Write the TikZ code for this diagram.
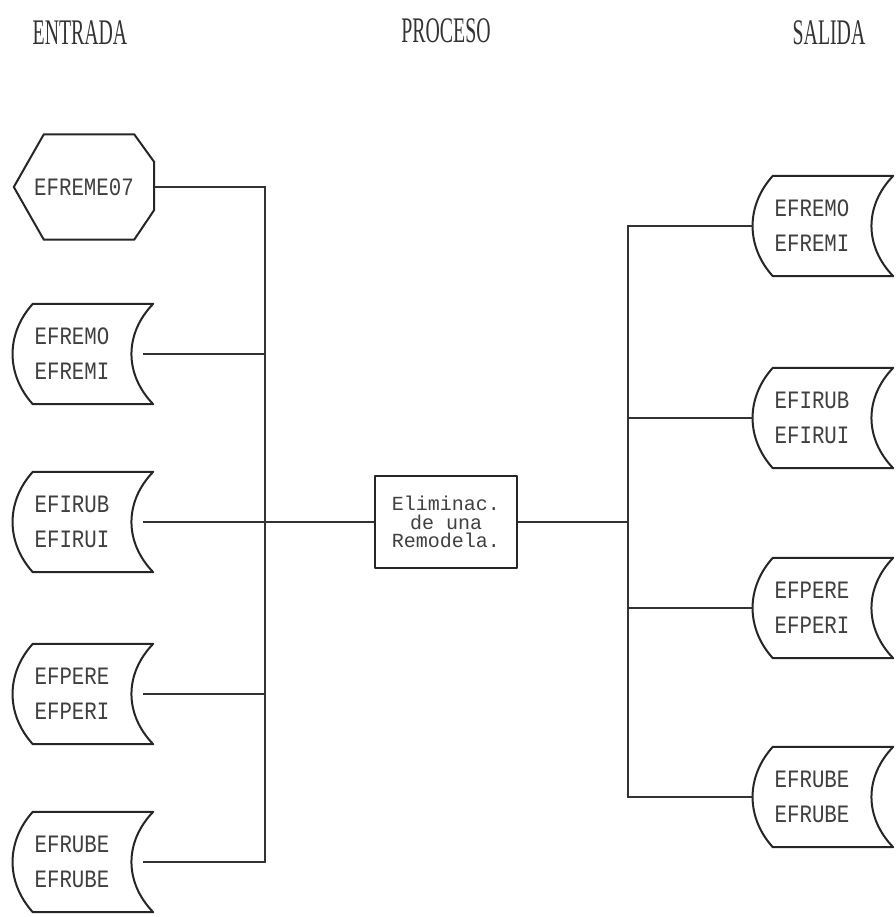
\documentclass[tikz,border=0pt]{standalone}
\usepackage{fontspec}
\newfontfamily\dotfont[FakeStretch=0.83]{Liberation Mono}
\newfontfamily\boxfont{Liberation Mono}
\newfontfamily\titlefont[FakeStretch=0.55]{Liberation Serif}
\usetikzlibrary{calc}
\begin{document}
\begin{tikzpicture}[x=1pt,y=-1pt]
\tikzset{
  shapeline/.style={draw=black!85, line width=2pt, line join=round},
  conn/.style={draw=black!80, line width=1.4pt},
  store/.style={minimum width=118pt, minimum height=100pt, inner sep=0pt, align=center,
    font=\dotfont\fontsize{25}{35}\selectfont, text=black!75},
  hexa/.style={minimum width=140pt, minimum height=105pt, inner sep=0pt,
    font=\dotfont\fontsize{25}{35}\selectfont, text=black!75},
  procbox/.style={shapeline, minimum width=142pt, minimum height=92pt, inner sep=0pt, align=center,
    font=\boxfont\fontsize{20}{18.5}\selectfont, text=black!75},
  title/.style={font=\titlefont\fontsize{36}{36}\selectfont, text=black!80, inner sep=0pt}
}
\useasboundingbox (0,0) rectangle (895,917);
\fill[white] (0,0) rectangle (895,917);

% titles
\node[title] (t1) at (80,33) {ENTRADA};
\node[title] (t2) at (446,31) {PROCESO};
\node[title] (t3) at (829,33) {SALIDA};

% left column
\node[hexa] (h) at (84,187) {EFREME07};
\node[store] (L2) at (72,354) {EFREMO\\EFREMI};
\node[store] (L3) at (72,522) {EFIRUB\\EFIRUI};
\node[store] (L4) at (72,694) {EFPERE\\EFPERI};
\node[store] (L5) at (72,862) {EFRUBE\\EFRUBE};

% process
\node[procbox] (P) at (446,522) {Eliminac.\\de una\\Remodela.};

% right column
\node[store] (R1) at (812,226) {EFREMO\\EFREMI};
\node[store] (R2) at (812,418) {EFIRUB\\EFIRUI};
\node[store] (R3) at (812,608) {EFPERE\\EFPERI};
\node[store] (R4) at (812,797) {EFRUBE\\EFRUBE};

% bus positions
\coordinate (bl) at (265,0);
\coordinate (br) at (628,0);

% hexagon outline
\draw[shapeline] ($(h.north west)+(30,0)$) -- ($(h.north east)+(-20,0)$) -- ($(h.east)+(0,-25)$)
  -- ($(h.east)+(0,23)$) -- ($(h.south east)+(-20,0)$) -- ($(h.south west)+(30,0)$) -- (h.west) -- cycle;

% stored data outlines
\foreach \n in {L2,L3,L4,L5,R1,R2,R3,R4}{
  \draw[shapeline] ($(\n.north west)+(20,0)$) -- ($(\n.north east)+(22,0)$)
    .. controls ($(\n.north east)+(-7,30)$) and ($(\n.south east)+(-7,-30)$) .. ($(\n.south east)+(22,0)$)
    -- ($(\n.south west)+(20,0)$)
    .. controls ($(\n.south west)+(-7,-30)$) and ($(\n.north west)+(-7,30)$) .. cycle;
}

% left connectors
\draw[conn] (h.east) -- (h.east -| bl) -- (L5.east -| bl) -- ([xshift=12pt]L5.east);
\foreach \n in {L2,L4}{
  \draw[conn] ([xshift=12pt]\n.east) -- (\n.east -| bl);
}
\draw[conn] ([xshift=12pt]L3.east) -- (P.west);

% right connectors
\draw[conn] (P.east) -- (P.east -| br);
\draw[conn] (R1.west) -- (R1.west -| br) -- (R4.west -| br) -- (R4.west);
\foreach \n in {R2,R3}{
  \draw[conn] (\n.west) -- (\n.west -| br);
}
\end{tikzpicture}
\end{document}
